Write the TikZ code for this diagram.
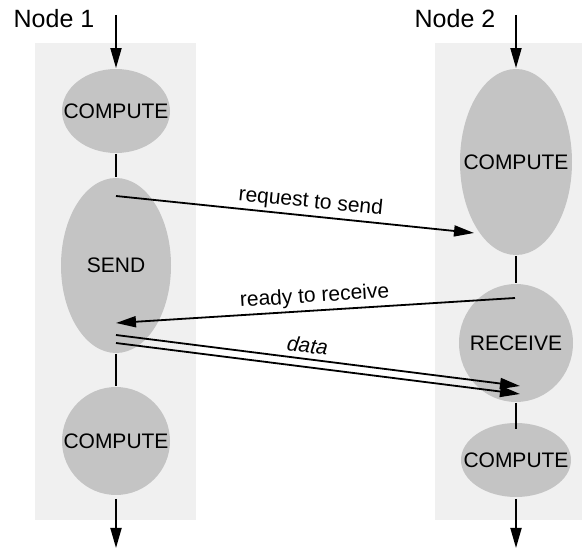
\documentclass[tikz,border=0pt]{standalone}
\usepackage{fontspec}
\setmainfont{Liberation Sans}
\usetikzlibrary{positioning,arrows.meta,shapes.geometric}
\definecolor{panelgray}{HTML}{F0F0F0}
\definecolor{taskgray}{HTML}{C4C4C4}
\newcommand{\tasklabel}[1]{\makebox[0pt]{#1}}

\begin{document}
\begin{tikzpicture}[x=1pt,y=-1pt,>={Triangle[length=20pt,width=11pt]},
  line width=1.8pt,
  task node/.style={ellipse,fill=taskgray,inner sep=0pt,font=\fontsize{21}{25}\selectfont},
  head label/.style={anchor=base,font=\fontsize{25}{29}\selectfont},
  msg label/.style={font=\fontsize{21}{25}\selectfont,sloped,above,inner sep=3pt}]
  \useasboundingbox (0,0) rectangle (582,548);

  % processor lanes
  \fill[panelgray] (35,43) rectangle (196,520);
  \fill[panelgray] (435,43) rectangle (582,520);

  \node[head label] (lbl1) at (54,28) {Node 1};
  \node[head label] (lbl2) at (455,28) {Node 2};

  % node 1
  \node[task node,minimum width=108pt,minimum height=84pt] (comp1) at (116,111) {\tasklabel{COMPUTE}};
  \node[task node,minimum width=110pt,minimum height=175pt] (send) at (116,265.5) {\tasklabel{SEND}};
  \node[task node,minimum width=108pt,minimum height=108pt] (comp2) at (116,441) {\tasklabel{COMPUTE}};

  % node 2
  \node[task node,minimum width=112pt,minimum height=186pt] (comp3) at (516,162) {\tasklabel{COMPUTE}};
  \node[task node,minimum width=114pt,minimum height=118pt] (recv) at (516,343) {\tasklabel{RECEIVE}};
  \node[task node,minimum width=110pt,minimum height=74pt] (comp4) at (516,460) {\tasklabel{COMPUTE}};

  \coordinate (in1) at (116,15);
  \coordinate (in2) at (516,15);
  \coordinate (out1) at (116,548);
  \coordinate (out2) at (516,548);

  \coordinate (rtsA) at (116,196);
  \coordinate (rtsB) at (474,233);
  \coordinate (rtrA) at (515,298);
  \coordinate (rtrB) at (116,323);
  \coordinate (datA) at (116,335);
  \coordinate (datB) at (520,386);
  \coordinate (datC) at (116,343);
  \coordinate (datD) at (520,394);

  \draw[->] (in1) -- (comp1);
  \draw[->] (in2) -- (comp3);
  \draw (comp1) -- (send);
  \draw (send) -- (comp2);
  \draw (comp3) -- (recv);
  \draw[shorten >=-7pt] (recv) -- (comp4);
  \draw[->,shorten <=3pt] (comp2) -- (out1);
  \draw[->,shorten <=1pt] (comp4) -- (out2);

  % messages
  \draw[->] (rtsA) -- node[msg label,pos=0.54] {request to send} (rtsB);
  \draw[<-] (rtrB) -- node[msg label] {ready to receive} (rtrA);
  \draw[->] (datA) -- node[msg label,pos=0.47,inner sep=5pt] {\itshape data} (datB);
  \draw[->] (datC) -- (datD);
\end{tikzpicture}
\end{document}
